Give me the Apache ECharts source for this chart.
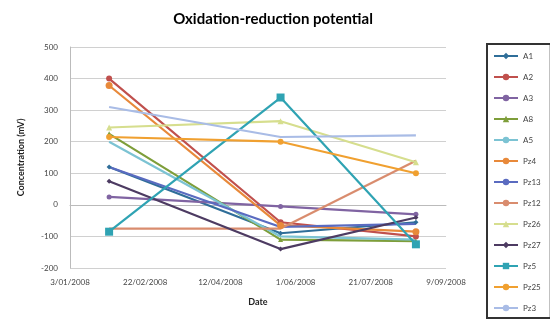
<!DOCTYPE html>
<html><head><meta charset="utf-8">
<script src="https://cdn.jsdelivr.net/npm/echarts@6/dist/echarts.min.js"></script>
<style>html,body{margin:0;padding:0;background:#fff}#c{width:550px;height:320px}</style>
</head><body><div id="c"></div>
<script>
var sampleDates = ["2008-01-29", "2008-05-22", "2008-08-20"];
var seriesNames = ["A1","A2","A3","A8","A5","Pz4","Pz13","Pz12","Pz26","Pz27","Pz5","Pz25","Pz3"];
var A1   = [120, -90, -55];
var A2   = [400, -55, -100];
var A3   = [25, -5, -30];
var A8   = [225, -110, -115];
var A5   = [200, -100, -110];
var Pz4  = [378, -65, -85];
var Pz13 = [120, -70, -60];
var Pz12 = [-75, -75, 140];
var Pz26 = [245, 265, 135];
var Pz27 = [75, -140, -40];
var Pz5  = [-85, 340, -125];
var Pz25 = [215, 200, 100];
var Pz3  = [310, 215, 220];
var yTicks = [-200, -100, 0, 100, 200, 300, 400, 500];
var axisStart = "2008-01-03";
var axisEnd = "2008-09-09";
var tickStepDays = 50;

var values = [A1,A2,A3,A8,A5,Pz4,Pz13,Pz12,Pz26,Pz27,Pz5,Pz25,Pz3];
var colors = ["#2F6E99","#C0504D","#8064A2","#7E9E3A","#7CC3D3","#E8893A","#5A6BC0","#D98C6E","#D6DE8E","#4D3B62","#2FA3B3","#F0A030","#A9BCE6"];
var symbols = ["diamond","circle","circle","triangle","none","circle","none","none","triangle","diamond","rect","circle","none"];
var sizes = [5,6,5,5,0,7,0,0,6,5,8,6,0];

var DAY = 86400000;
function toUTC(s){var p=s.split("-");return Date.UTC(+p[0],+p[1]-1,+p[2]);}
var t0 = toUTC(axisStart);
function dayOffset(s){return (toUTC(s)-t0)/DAY;}
function fmt(v){var d=new Date(t0+v*DAY);var m=d.getUTCMonth()+1;return d.getUTCDate()+"/"+(m<10?"0"+m:m)+"/"+d.getUTCFullYear();}

var series = seriesNames.map(function(n,i){
  return {
    name:n, type:'line',
    data: sampleDates.map(function(d,j){return [dayOffset(d), values[i][j]];}),
    symbol: symbols[i], symbolSize: sizes[i], showSymbol: symbols[i]!=="none",
    lineStyle:{width:2.2,color:colors[i]},
    itemStyle:{color:colors[i]},
    emphasis:{disabled:true},
    animation:false
  };
});

var chart = echarts.init(document.getElementById('c'));
chart.setOption({
  backgroundColor:'#fff',
  textStyle:{fontFamily:'Lato, "Open Sans", sans-serif'},
  title:{text:'Oxidation-reduction potential',left:268,top:7,textAlign:'center',
    textStyle:{fontSize:15,fontWeight:'bold',color:'#000',fontFamily:'Lato, sans-serif'}},
  grid:{left:70,right:104,top:47,bottom:52},
  xAxis:{type:'value',min:0,max:dayOffset(axisEnd),interval:tickStepDays,
    name:'Date',nameLocation:'middle',nameGap:30,
    nameTextStyle:{fontSize:9,fontWeight:'bold',color:'#222'},
    axisLine:{show:true,lineStyle:{color:'#bbb'}},axisTick:{show:false},
    splitLine:{show:false},
    axisLabel:{fontSize:8,color:'#444',margin:10,formatter:fmt}},
  yAxis:{type:'value',min:yTicks[0],max:yTicks[yTicks.length-1],interval:100,
    name:'Concentration (mV)',nameLocation:'middle',nameGap:44,
    nameTextStyle:{fontSize:9,fontWeight:'bold',color:'#222'},
    axisLine:{show:true,lineStyle:{color:'#bbb'}},axisTick:{show:false},
    splitLine:{lineStyle:{color:'#d0d0d0',width:1}},
    axisLabel:{fontSize:8,color:'#444',margin:12}},
  legend:{orient:'vertical',left:487,top:44,width:56,
    padding:[8,10,6,6],itemGap:13,itemWidth:24,itemHeight:8,
    borderColor:'#333',borderWidth:2,
    textStyle:{fontSize:8,color:'#444'},
    data:seriesNames},
  series:series
});
</script></body></html>
